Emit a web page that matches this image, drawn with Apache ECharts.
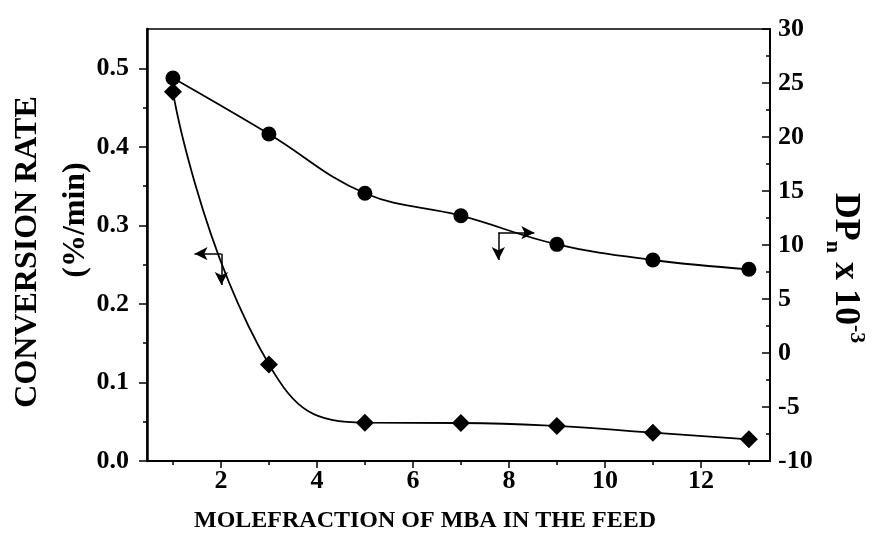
<!DOCTYPE html>
<html><head><meta charset="utf-8">
<script src="https://cdn.jsdelivr.net/npm/echarts@6/dist/echarts.min.js"></script>
<style>html,body{margin:0;padding:0;background:#fff}#c{width:872px;height:539px}</style>
</head><body><div id="c"></div>
<script>
// ---- data ----
const molefraction   = [1, 3, 5, 7, 9, 11, 13];
const conversionRate = [0.470, 0.123, 0.0488, 0.0484, 0.0446, 0.036, 0.0276];
const dpn            = [25.46, 20.28, 14.79, 12.71, 10.06, 8.61, 7.75];

const xMajorTicks = [2, 4, 6, 8, 10, 12];
const xMinorTicks = [1, 3, 5, 7, 9, 11, 13];
const leftMajorTicks = [0, 0.1, 0.2, 0.3, 0.4, 0.5];
const leftMinorTicks = [0.05, 0.15, 0.25, 0.35, 0.45];

// arrow annotations (data coordinates)
const rateArrowCorner = [2.01, 0.264];
const rateArrowLeftTipX = 1.45;
const rateArrowDownTipY = 0.224;
const dpArrowCorner = [7.78, 11.14];
const dpArrowRightTipX = 8.53;
const dpArrowDownTipY = 8.61;

const FONT = "'Liberation Serif', 'Times New Roman', serif";
const BLACK = '#000';

const chart = echarts.init(document.getElementById('c'), null, {renderer: 'canvas'});

const xCommon = {
  type: 'value', min: 0.46, max: 13.44, position: 'bottom',
  splitLine: {show: false}
};
const labelStyle = {color: BLACK, fontFamily: FONT, fontWeight: 'bold', fontSize: 26};

const option = {
  animation: false,
  backgroundColor: '#fff',
  grid: {left: 147, right: 102, top: 29, bottom: 78, show: true, borderColor: BLACK, borderWidth: 1.5, backgroundColor: 'transparent', containLabel: false},
  xAxis: [
    Object.assign({}, xCommon, {
      axisLine: {onZero: false, lineStyle: {color: BLACK, width: 2}},
      axisTick: {customValues: xMajorTicks, length: 7, lineStyle: {color: BLACK, width: 1.5}},
      axisLabel: Object.assign({customValues: xMajorTicks, margin: 7}, labelStyle)
    }),
    Object.assign({}, xCommon, {
      axisLine: {show: false, onZero: false},
      axisTick: {customValues: xMinorTicks, length: 4, lineStyle: {color: BLACK, width: 1.5}},
      axisLabel: {show: false}
    })
  ],
  yAxis: [
    {
      type: 'value', position: 'left', min: 0, max: 0.55,
      splitLine: {show: false},
      axisLine: {onZero: false, lineStyle: {color: BLACK, width: 2.5}},
      axisTick: {customValues: leftMajorTicks, length: 8, lineStyle: {color: BLACK, width: 1.5}},
      axisLabel: Object.assign({customValues: leftMajorTicks, margin: 18, formatter: v => v.toFixed(1)}, labelStyle)
    },
    {
      type: 'value', position: 'right', min: -10, max: 30, interval: 5,
      splitLine: {show: false},
      axisLine: {onZero: false, lineStyle: {color: BLACK, width: 2}},
      axisTick: {inside: true, length: 8, lineStyle: {color: BLACK, width: 1.5}},
      minorTick: {show: true, splitNumber: 2, length: 4, lineStyle: {color: BLACK, width: 1.5}},
      axisLabel: Object.assign({margin: 8}, labelStyle)
    },
    {
      type: 'value', position: 'left', min: 0, max: 0.55,
      splitLine: {show: false},
      axisLine: {show: false, onZero: false},
      axisTick: {customValues: leftMinorTicks, length: 4, lineStyle: {color: BLACK, width: 1.5}},
      axisLabel: {show: false}
    }
  ],
  series: [
    {
      name: 'Conversion rate', type: 'line', xAxisIndex: 0, yAxisIndex: 0,
      data: molefraction.map((x, i) => [x, conversionRate[i]]),
      smooth: 0.5, symbol: 'diamond', symbolSize: 18,
      itemStyle: {color: BLACK}, lineStyle: {color: BLACK, width: 1.8},
      markLine: {
        silent: true, symbol: ['none', 'arrow'], symbolSize: [10, 13],
        label: {show: false}, lineStyle: {color: BLACK, width: 1.5, type: 'solid'},
        data: [
          [{coord: rateArrowCorner}, {coord: [rateArrowLeftTipX, rateArrowCorner[1]]}],
          [{coord: rateArrowCorner}, {coord: [rateArrowCorner[0], rateArrowDownTipY]}]
        ]
      }
    },
    {
      name: 'DPn', type: 'line', xAxisIndex: 0, yAxisIndex: 1,
      data: molefraction.map((x, i) => [x, dpn[i]]),
      smooth: 0.4, symbol: 'circle', symbolSize: 15,
      itemStyle: {color: BLACK}, lineStyle: {color: BLACK, width: 1.8},
      markLine: {
        silent: true, symbol: ['none', 'arrow'], symbolSize: [10, 13],
        label: {show: false}, lineStyle: {color: BLACK, width: 1.5, type: 'solid'},
        data: [
          [{coord: dpArrowCorner}, {coord: [dpArrowRightTipX, dpArrowCorner[1]]}],
          [{coord: dpArrowCorner}, {coord: [dpArrowCorner[0], dpArrowDownTipY]}]
        ]
      }
    }
  ],
  graphic: [
    {type: 'text', x: 28, y: 252, rotation: Math.PI / 2,
     style: {text: 'CONVERSION RATE', fill: BLACK, fontFamily: FONT, fontWeight: 'bold', fontSize: 32, align: 'center', verticalAlign: 'middle'}},
    {type: 'text', x: 76, y: 220, rotation: Math.PI / 2,
     style: {text: '(%/min)', fill: BLACK, fontFamily: FONT, fontWeight: 'bold', fontSize: 32, align: 'center', verticalAlign: 'middle'}},
    {type: 'text', x: 845, y: 268, rotation: -Math.PI / 2,
     style: {text: '{m|DP}{s|n}{m| x 10}{p|-3}', fill: BLACK, align: 'center', verticalAlign: 'middle',
       rich: {
         m: {fontFamily: FONT, fontWeight: 'bold', fontSize: 36, lineHeight: 46, fill: BLACK},
         s: {fontFamily: FONT, fontWeight: 'bold', fontSize: 22, verticalAlign: 'bottom', fill: BLACK},
         p: {fontFamily: FONT, fontWeight: 'bold', fontSize: 22, verticalAlign: 'top', fill: BLACK}
       }}},
    {type: 'text', x: 425, y: 521,
     style: {text: 'MOLEFRACTION OF MBA IN THE FEED', fill: BLACK, fontFamily: FONT, fontWeight: 'bold', fontSize: 24, align: 'center', verticalAlign: 'middle'}}
  ]
};
chart.setOption(option);
</script>
</body></html>
